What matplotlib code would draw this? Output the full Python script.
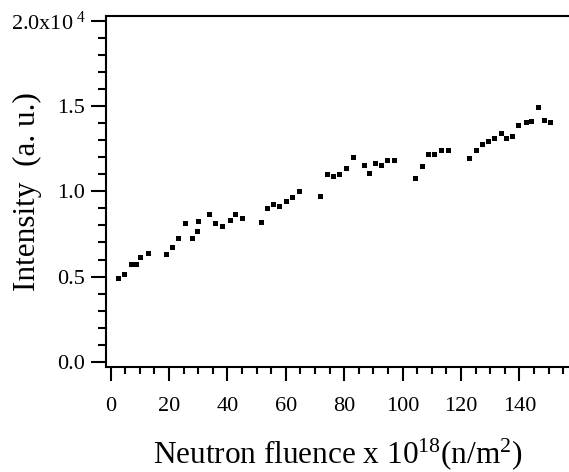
"""Neutron fluence vs intensity scatter, recreated from reference."""
import matplotlib
matplotlib.use("Agg")
import matplotlib.pyplot as plt
from matplotlib.ticker import MultipleLocator, FuncFormatter

plt.rcParams["font.family"] = ["Liberation Serif", "DejaVu Serif"]
plt.rcParams["mathtext.fontset"] = "custom"
plt.rcParams["mathtext.rm"] = "Liberation Serif"
plt.rcParams["mathtext.it"] = "Liberation Serif:italic"

# fluence (x 10^18 n/m^2)
fluence = [
    2.4, 4.6, 6.9, 8.6, 10.2, 12.7, 18.9, 21.1, 23.1, 25.4, 27.7, 29.5, 29.8,
    33.6, 35.9, 38.2, 40.8, 42.6, 44.9, 51.6, 53.7, 55.7, 57.8, 60.1, 62.1,
    64.6, 71.6, 74.1, 76.3, 78.3, 80.6, 82.9, 86.7, 88.5, 90.4, 92.6, 94.7,
    97.0, 104.3, 106.6, 108.6, 110.8, 113.3, 115.6, 122.9, 125.2, 127.3,
    129.2, 131.4, 133.6, 135.5, 137.6, 139.7, 142.1, 143.9, 146.3, 148.3,
    150.5,
]
# intensity (x 10^4 a.u.)
intensity = [
    0.489, 0.518, 0.573, 0.573, 0.616, 0.641, 0.633, 0.673, 0.725, 0.813,
    0.725, 0.766, 0.825, 0.866, 0.817, 0.796, 0.829, 0.866, 0.846, 0.821,
    0.900, 0.923, 0.915, 0.946, 0.968, 0.999, 0.972, 1.101, 1.091, 1.103,
    1.134, 1.200, 1.157, 1.107, 1.167, 1.157, 1.185, 1.183, 1.079, 1.151,
    1.216, 1.216, 1.242, 1.245, 1.193, 1.245, 1.277, 1.296, 1.310, 1.341,
    1.312, 1.324, 1.386, 1.408, 1.413, 1.494, 1.419, 1.409,
]

fig = plt.figure(figsize=(5.69, 4.72), dpi=100)
ax = fig.add_axes([0.1863, 0.2231, 0.8137, 0.7424])

ax.plot(fluence, intensity, ls="none", marker="s", ms=3.6, color="black",
        markeredgewidth=0)

ax.set_xlim(-1.6, 157)
ax.set_ylim(-0.028, 2.026)

ax.xaxis.set_major_locator(MultipleLocator(20))
ax.xaxis.set_minor_locator(MultipleLocator(5))
ax.yaxis.set_major_locator(MultipleLocator(0.5))
ax.yaxis.set_minor_locator(MultipleLocator(0.1))


def yfmt(v, pos):
    if abs(v - 2.0) < 1e-6:
        return r"2.0x10$^{\ 4}$"
    return f"{v:.1f}"


ax.yaxis.set_major_formatter(FuncFormatter(yfmt))

ax.spines["right"].set_visible(False)
for s in ("left", "top", "bottom"):
    ax.spines[s].set_linewidth(1.5)

ax.tick_params(axis="both", which="major", direction="out", width=1.5,
               labelsize=16)
ax.tick_params(axis="x", which="major", length=10, pad=12)
ax.tick_params(axis="y", which="major", length=11, pad=4)
ax.tick_params(axis="x", which="minor", direction="out", length=5, width=1.5)
ax.tick_params(axis="y", which="minor", direction="out", length=5.5, width=1.5)

ax.set_xlabel(r"Neutron fluence x 10$^{18}$(n/m$^{2}$)", fontsize=22.5)
ax.xaxis.label.set_va("baseline")
ax.xaxis.set_label_coords(0.5, -0.275)
ax.set_ylabel("Intensity  (a. u.)", fontsize=22.5)
ax.yaxis.set_label_coords(-0.138, 0.5)

fig.savefig("out.png", dpi=100)
